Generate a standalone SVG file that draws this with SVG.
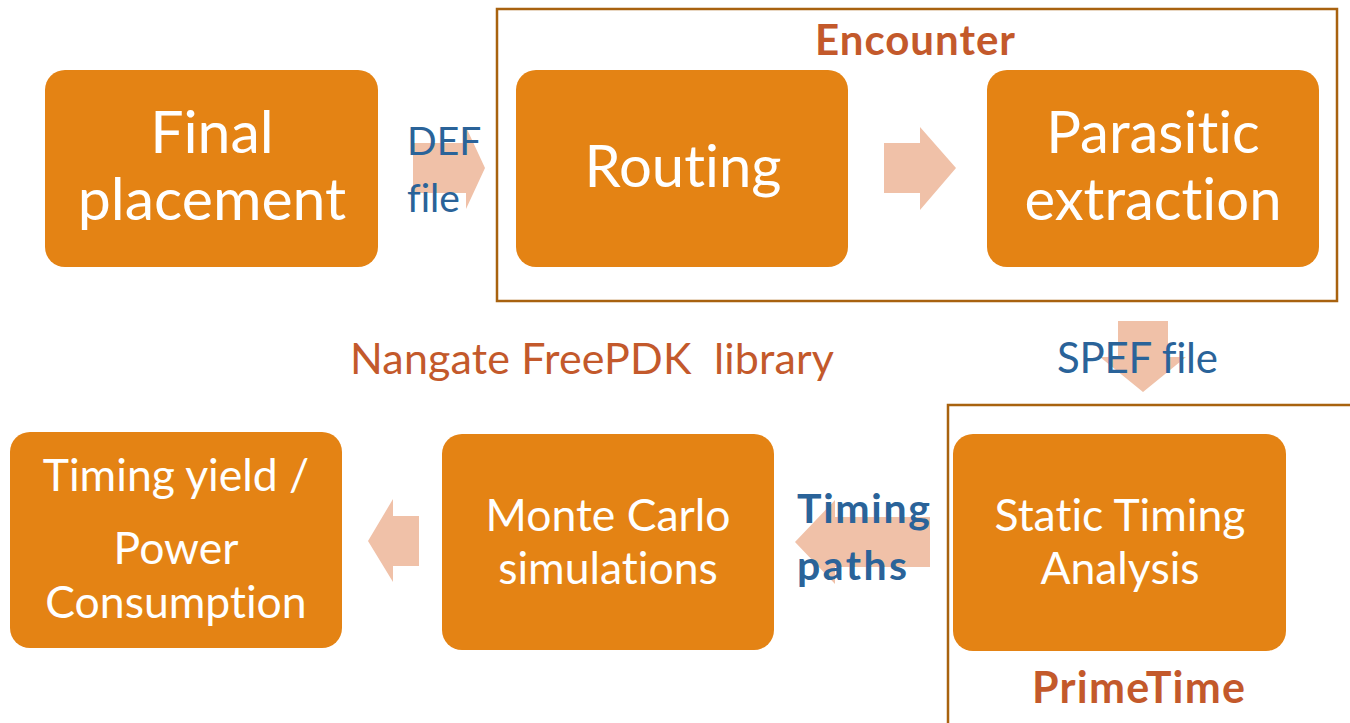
<svg xmlns="http://www.w3.org/2000/svg" width="1350" height="723" viewBox="0 0 1350 723">
<style>
text{font-variant-ligatures:none;font-feature-settings:"liga" 0;}
.box{fill:#E48314;}
.w{fill:#FFFFFF;font-family:Lato,"Open Sans",sans-serif;text-anchor:middle;}
.arr{fill:#F0C1A8;}
.blue{fill:#2A6399;font-family:Lato,"Open Sans",sans-serif;}
.lab{fill:#C3592B;font-family:Lato,"Open Sans",sans-serif;}
.frame{fill:none;stroke:#A8620F;stroke-width:2.5;}
</style>
<rect width="1350" height="723" fill="#FFFFFF"/>
<rect class="frame" x="497" y="9" width="840" height="292"/>
<path class="frame" d="M948,723 V405 H1350"/>
<g id="connectors">
<polygon class="arr" points="413,143 466,143 466,127 485,168 466,209 466,193 413,193"/>
<polygon class="arr" points="884,143 920,143 920,127 956,168 920,210 920,193 884,193"/>
<polygon class="arr" points="1118,321 1168,321 1168,357 1186,357 1143,392 1100,357 1118,357"/>
<polygon class="arr" points="930,517 930,567 835,567 835,584 795,542 835,500 835,517"/>
<polygon class="arr" points="419,516 419,566 393,566 393,582 368,541 393,499 393,516"/>
</g>
<g id="final"><rect class="box" x="45" y="70" width="333" height="197" rx="20"/>
<text class="w" font-size="59"><tspan x="212" y="153">Final</tspan><tspan x="212" y="220">placement</tspan></text></g>
<g id="routing"><rect class="box" x="516" y="70" width="332" height="197" rx="20"/>
<text class="w" font-size="58" x="683" y="187">Routing</text></g>
<g id="parasitic"><rect class="box" x="987" y="70" width="332" height="197" rx="20"/>
<text class="w" font-size="58"><tspan x="1153" y="153">Parasitic</tspan><tspan x="1153" y="220">extraction</tspan></text></g>
<g id="sta"><rect class="box" x="953" y="434" width="333" height="217" rx="20"/>
<text class="w" font-size="44.5"><tspan x="1120" y="531">Static Timing</tspan><tspan x="1120" y="584">Analysis</tspan></text></g>
<g id="montecarlo"><rect class="box" x="442" y="434" width="332" height="216" rx="20"/>
<text class="w" font-size="44.5"><tspan x="608" y="531">Monte Carlo</tspan><tspan x="608" y="584">simulations</tspan></text></g>
<g id="yield"><rect class="box" x="10" y="432" width="332" height="216" rx="20"/>
<text class="w" font-size="44.5"><tspan x="176" y="491">Timing yield /</tspan><tspan x="176" y="564">Power</tspan><tspan x="176" y="618">Consumption</tspan></text></g>
<g id="labels">
<text class="lab" font-size="42" font-weight="bold" x="815" y="55" textLength="200" lengthAdjust="spacing">Encounter</text>
<text class="lab" font-size="43" font-weight="bold" x="1032" y="703" textLength="213" lengthAdjust="spacing">PrimeTime</text>
<text class="lab" font-size="43" x="350" y="374" xml:space="preserve" textLength="484" lengthAdjust="spacing">Nangate FreePDK  library</text>
<text class="blue" font-size="39"><tspan x="407" y="155">DEF</tspan><tspan x="407" y="212">file</tspan></text>
<text class="blue" font-size="42" x="1057" y="373" textLength="161" lengthAdjust="spacing">SPEF file</text>
<text class="blue" font-size="41" font-weight="bold"><tspan x="797" y="523" textLength="133" lengthAdjust="spacing">Timing</tspan><tspan x="797" y="580" textLength="110" lengthAdjust="spacing">paths</tspan></text>
</g>
</svg>
